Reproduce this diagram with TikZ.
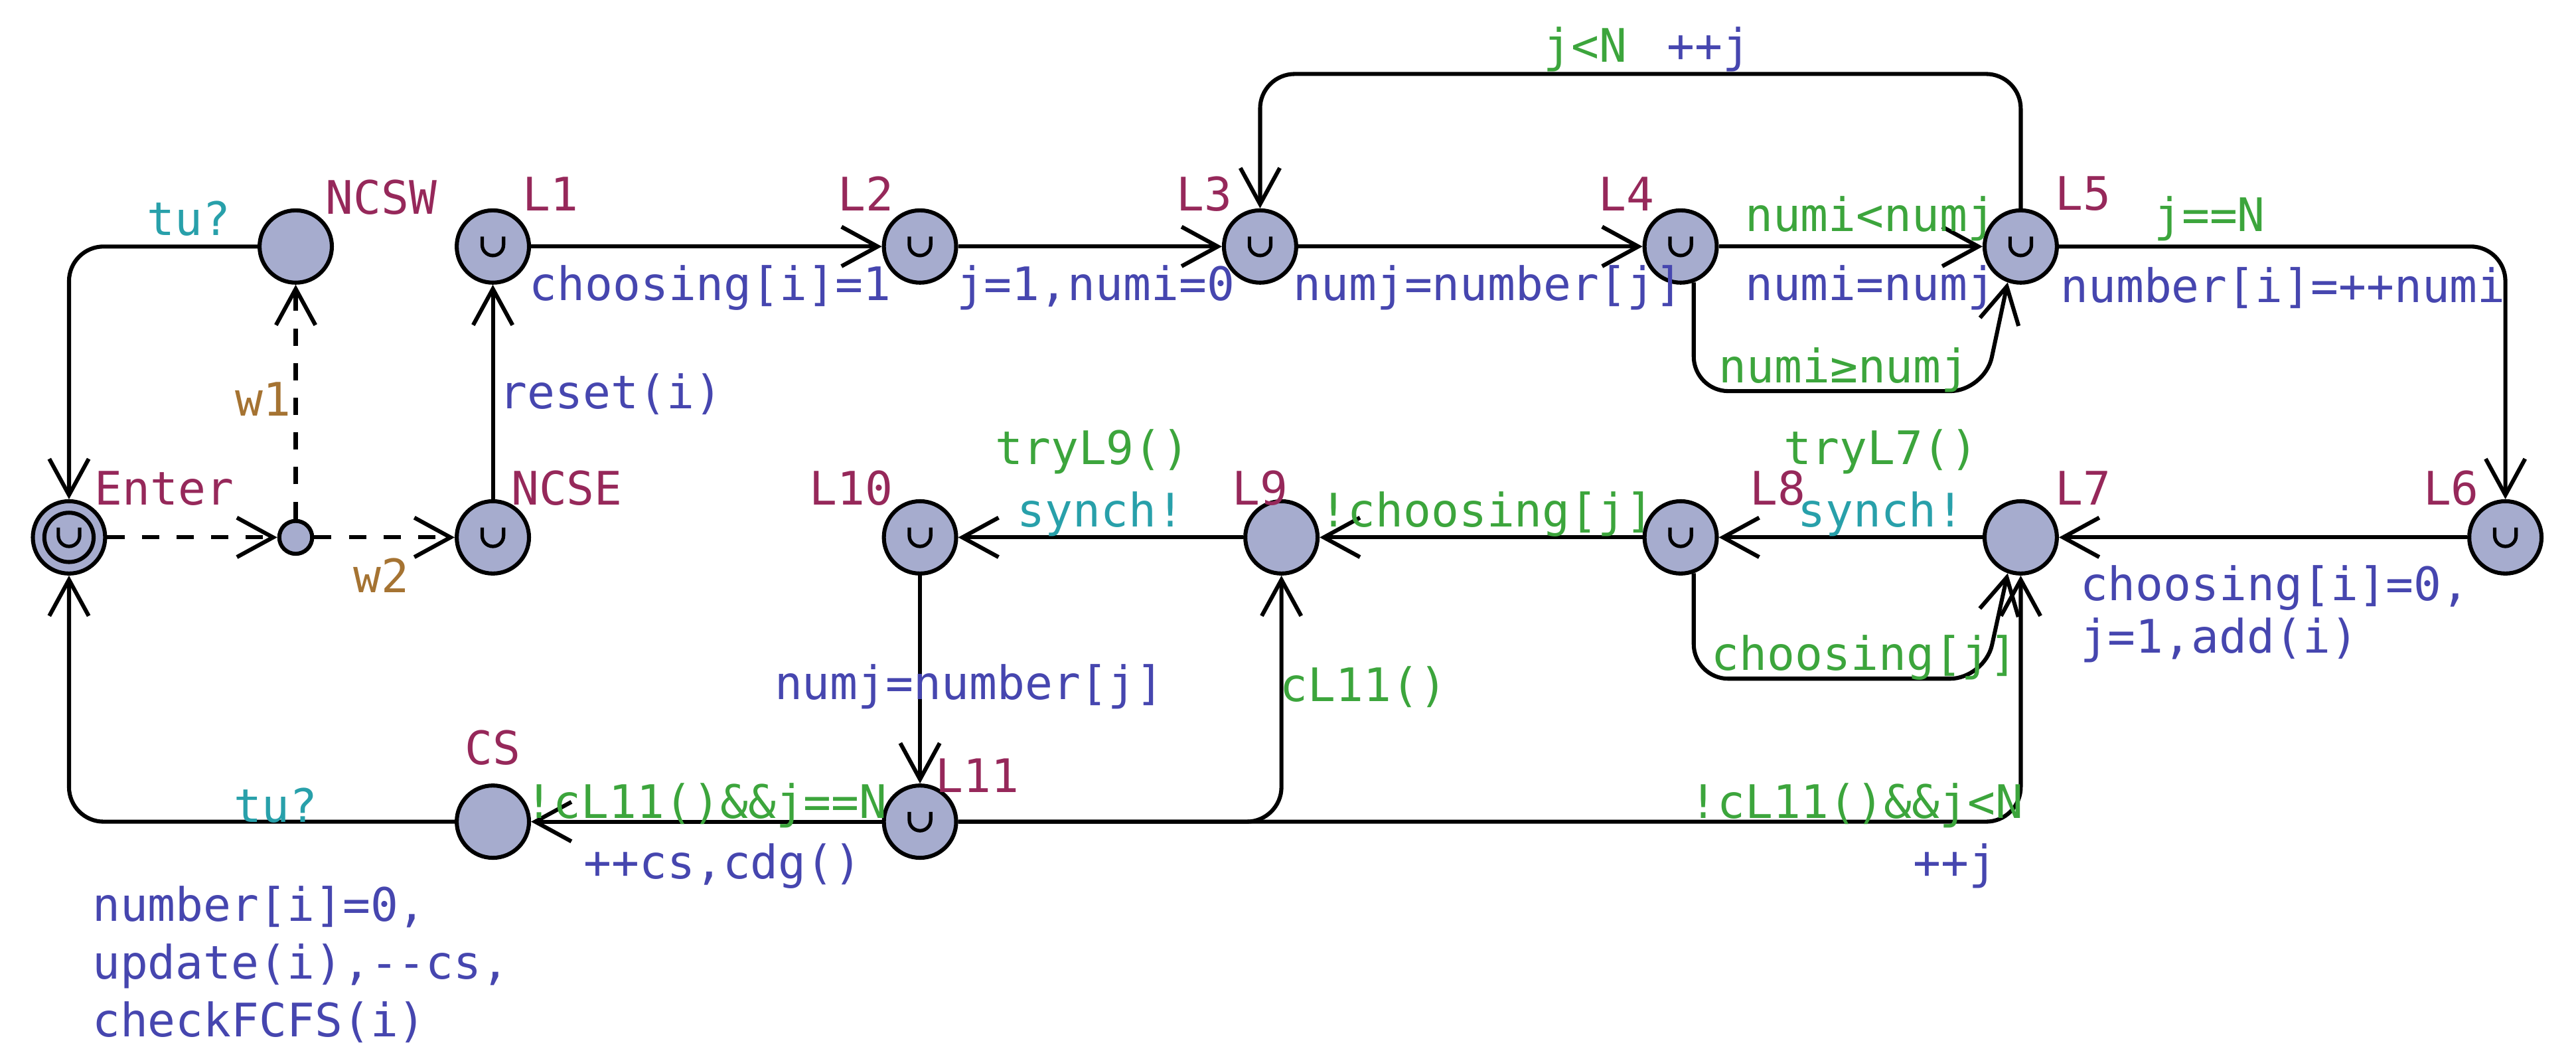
\documentclass[tikz,border=0pt]{standalone}
\usepackage{fontspec}
\setmonofont{DejaVu Sans Mono}
\usetikzlibrary{arrows.meta}
\definecolor{locfill}{RGB}{166,172,206}
\definecolor{locname}{RGB}{150,40,90}
\definecolor{grd}{RGB}{60,165,60}
\definecolor{upd}{RGB}{70,70,175}
\definecolor{snc}{RGB}{40,160,170}
\definecolor{sel}{RGB}{165,115,50}
\tikzset{
	loc/.style={circle,draw,fill=locfill,minimum size=0.44cm,inner sep=0pt,line width=0.7pt},
	branch/.style={circle,draw,fill=locfill,minimum size=0.2cm,inner sep=0pt,line width=0.7pt},
	lname/.style={text=locname,font=\ttfamily\fontsize{8}{9}\selectfont,inner sep=1pt},
	guard/.style={text=grd,font=\ttfamily\fontsize{8}{9}\selectfont,inner sep=1pt},
	assign/.style={text=upd,font=\ttfamily\fontsize{8}{9}\selectfont,inner sep=1pt,align=left},
	synch/.style={text=snc,font=\ttfamily\fontsize{8}{9}\selectfont,inner sep=1pt},
	select/.style={text=sel,font=\ttfamily\fontsize{8}{9}\selectfont,inner sep=1pt},
	edge/.style={-{Straight Barb[length=2.2mm,width=2.4mm]},line width=0.7pt,rounded corners=6pt}
}
\begin{document}
\begin{tikzpicture}
	\useasboundingbox (0,0) rectangle (15.68,-6.37);
	
	%LOCATIONS
	\node[loc] (enter) at (0.42,-3.27) {};
	\draw[line width=0.7pt] (enter) circle (0.15);
	\node[loc] (ncsw) at (1.80,-1.50) {};
	\node[loc] (l1) at (3.00,-1.50) {};
	\node[loc] (l2) at (5.60,-1.50) {};
	\node[loc] (l3) at (7.67,-1.50) {};
	\node[loc] (l4) at (10.23,-1.50) {};
	\node[loc] (l5) at (12.30,-1.50) {};
	\node[loc] (l6) at (15.25,-3.27) {};
	\node[loc] (l7) at (12.30,-3.27) {};
	\node[loc] (l8) at (10.23,-3.27) {};
	\node[loc] (l9) at (7.80,-3.27) {};
	\node[loc] (l10) at (5.60,-3.27) {};
	\node[loc] (ncse) at (3.00,-3.27) {};
	\node[branch] (br) at (1.80,-3.27) {};
	\node[loc] (cs) at (3.00,-5.00) {};
	\node[loc] (l11) at (5.60,-5.00) {};
	
	%URGENT MARKS
	\foreach \n in {enter,l1,l2,l3,l4,l5,l6,l8,l10,ncse,l11}
	\draw[line width=0.6pt] ([shift={(-0.065,0.06)}]\n.center) -- ++(0,-0.05) arc (180:360:0.065) -- ++(0,0.05);
	
	%NAMES
	\node[lname] at (2.32,-1.20) {NCSW};
	\node[lname] at (3.35,-1.18) {L1};
	\node[lname] at (5.27,-1.18) {L2};
	\node[lname] at (7.33,-1.18) {L3};
	\node[lname] at (9.90,-1.18) {L4};
	\node[lname] at (12.68,-1.18) {L5};
	\node[lname] at (14.92,-2.97) {L6};
	\node[lname] at (12.68,-2.97) {L7};
	\node[lname] at (10.82,-2.97) {L8};
	\node[lname] at (7.67,-2.97) {L9};
	\node[lname] at (5.18,-2.97) {L10};
	\node[lname] at (3.45,-2.97) {NCSE};
	\node[lname] at (1.00,-2.97) {Enter};
	\node[lname] at (3.00,-4.55) {CS};
	\node[lname] at (5.95,-4.72) {L11};
	
	%EDGES
	\draw[edge] (ncsw) -| (enter);
	\node[synch] at (1.15,-1.33) {tu?};
	\draw[edge,dashed] (enter) -- (br);
	\draw[edge,dashed] (br) -- (ncsw);
	\node[select] at (1.60,-2.43) {w1};
	\draw[edge,dashed] (br) -- (ncse);
	\node[select] at (2.32,-3.50) {w2};
	\draw[edge] (ncse) -- (l1);
	\node[assign,anchor=west] at (3.00,-2.40) {reset(i)};
	\draw[edge] (l1) -- (l2);
	\node[assign,anchor=west] at (3.18,-1.75) {choosing[i]=1};
	\draw[edge] (l2) -- (l3);
	\node[assign,anchor=west] at (5.78,-1.75) {j=1,numi=0};
	\draw[edge] (l3) -- (l4);
	\node[assign,anchor=west] at (7.83,-1.75) {numj=number[j]};
	\draw[edge] (l4) -- (l5);
	\node[guard,anchor=west] at (10.58,-1.33) {numi<numj};
	\node[assign,anchor=west] at (10.58,-1.75) {numi=numj};
	\draw[edge] (l4.290) |- (12.08,-2.38) -- (l5.250);
	\node[guard,anchor=west] at (10.42,-2.25) {numi≥numj};
	\coordinate (top) at (10.00,-0.45);
	\draw[edge] (l5.north) |- (top) -| (l3.north);
	\node[guard] at (9.65,-0.30) {j<N};
	\node[assign] at (10.40,-0.30) {++j};
	\draw[edge] (l5) -| (l6);
	\node[guard] at (13.45,-1.33) {j==N};
	\node[assign,anchor=west] at (12.50,-1.75) {number[i]=++numi};
	\draw[edge] (l6) -- (l7);
	\node[assign,anchor=north west] at (12.62,-3.40) {choosing[i]=0,\\j=1,add(i)};
	\draw[edge] (l7) -- (l8);
	\node[guard] at (11.45,-2.75) {tryL7()};
	\node[synch] at (11.45,-3.13) {synch!};
	\draw[edge] (l8.290) |- (12.08,-4.13) -- (l7.250);
	\node[guard] at (11.35,-4.00) {choosing[j]};
	\draw[edge] (l8) -- (l9);
	\node[guard] at (9.05,-3.13) {!choosing[j]};
	\draw[edge] (l9) -- (l10);
	\node[guard] at (6.65,-2.75) {tryL9()};
	\node[synch] at (6.70,-3.13) {synch!};
	\draw[edge] (l10) -- (l11);
	\node[assign] at (5.90,-4.18) {numj=number[j]};
	\draw[edge] (l11) -| (l9);
	\node[guard] at (8.30,-4.18) {cL11()};
	\draw[edge] (l11) -| (l7);
	\node[guard] at (11.30,-4.90) {!cL11()\&\&j<N};
	\node[assign] at (11.90,-5.27) {++j};
	\draw[edge] (l11) -- (cs);
	\node[guard] at (4.30,-4.90) {!cL11()\&\&j==N};
	\node[assign] at (4.40,-5.27) {++cs,cdg()};
	\draw[edge] (cs) -| (enter);
	\node[synch] at (1.68,-4.90) {tu?};
	\node[assign,anchor=north west,text depth=0pt] at (0.52,-5.35) {number[i]=0,\\[1pt]update(i),--cs,\\[1pt]checkFCFS(i)};
\end{tikzpicture}
\end{document}
